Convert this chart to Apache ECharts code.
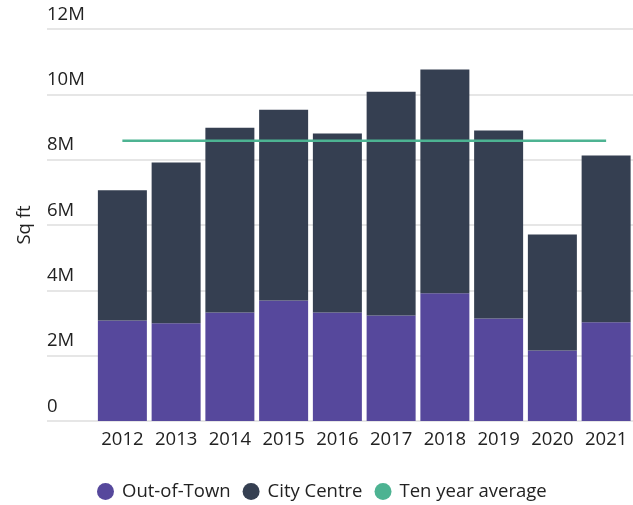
<!DOCTYPE html>
<html>
<head>
<meta charset="utf-8">
<script src="https://cdn.jsdelivr.net/npm/echarts@6/dist/echarts.min.js"></script>
<style>
  html, body { margin: 0; padding: 0; background: #fff; }
  #chart { width: 633px; height: 505px; }
</style>
</head>
<body>
<div id="chart"></div>
<script>
// values in millions of sq ft
const years = ['2012', '2013', '2014', '2015', '2016', '2017', '2018', '2019', '2020', '2021']
const outOfTown = [3.08, 2.99, 3.32, 3.69, 3.32, 3.23, 3.91, 3.14, 2.16, 3.02]
const cityCentre = [3.98, 4.92, 5.66, 5.84, 5.48, 6.85, 6.85, 5.75, 3.55, 5.11]
const tenYearAverage = [8.58, 8.58, 8.58, 8.58, 8.58, 8.58, 8.58, 8.58, 8.58, 8.58]
const yTicks = [0, 2, 4, 6, 8, 10, 12]

const font = '"Open Sans", "Noto Sans", sans-serif'
const textColor = '#222'
const fontSize = 18.5

const chart = echarts.init(document.getElementById('chart'))

chart.setOption({
  animation: false,
  textStyle: { fontFamily: font },
  legend: {
    left: 97,
    top: 482,
    padding: 0,
    icon: 'circle',
    itemWidth: 23,
    itemHeight: 17,
    itemGap: 12,
    textStyle: { fontFamily: font, fontSize: fontSize, color: textColor },
    data: ['Out-of-Town', 'City Centre', 'Ten year average'],
  },
  grid: [
    // gridlines + labels
    { left: 47, right: 0, top: 29, height: 392 },
    // bars
    { left: 95.5, width: 540, top: 29, height: 392 },
  ],
  xAxis: [
    { gridIndex: 0, type: 'value', show: false, min: 0, max: 1 },
    {
      gridIndex: 1,
      type: 'category',
      data: years,
      axisLine: { show: false },
      axisTick: { show: false },
      axisLabel: {
        interval: 0,
        hideOverlap: false,
        fontSize: fontSize,
        color: textColor,
        margin: 9,
        fontFamily: font,
      },
    },
  ],
  yAxis: [
    {
      gridIndex: 0,
      type: 'value',
      min: yTicks[0],
      max: yTicks[yTicks.length - 1],
      interval: 2,
      name: 'Sq ft',
      nameLocation: 'middle',
      nameGap: 13,
      nameTextStyle: { fontSize: fontSize, color: textColor, fontFamily: font },
      axisLine: { show: false },
      axisTick: { show: false },
      splitLine: { lineStyle: { color: '#e6e6e6', width: 2 } },
      axisLabel: {
        inside: true,
        margin: 0,
        verticalAlign: 'bottom',
        padding: [0, 0, 5, 0],
        fontSize: fontSize,
        color: textColor,
        fontFamily: font,
        formatter: (v) => (v === 0 ? '0' : v + 'M'),
      },
    },
    { gridIndex: 1, type: 'value', min: 0, max: 12, show: false },
  ],
  series: [
    {
      name: 'Out-of-Town',
      type: 'bar',
      stack: 'total',
      xAxisIndex: 1,
      yAxisIndex: 1,
      barWidth: 49,
      itemStyle: { color: '#56489c' },
      data: outOfTown,
    },
    {
      name: 'City Centre',
      type: 'bar',
      stack: 'total',
      xAxisIndex: 1,
      yAxisIndex: 1,
      barWidth: 49,
      itemStyle: { color: '#353f51' },
      data: cityCentre,
    },
    {
      name: 'Ten year average',
      type: 'line',
      xAxisIndex: 1,
      yAxisIndex: 1,
      symbol: 'none',
      lineStyle: { color: '#4db392', width: 2.5 },
      itemStyle: { color: '#4db392' },
      data: tenYearAverage,
      z: 5,
    },
  ],
})
</script>
</body>
</html>
